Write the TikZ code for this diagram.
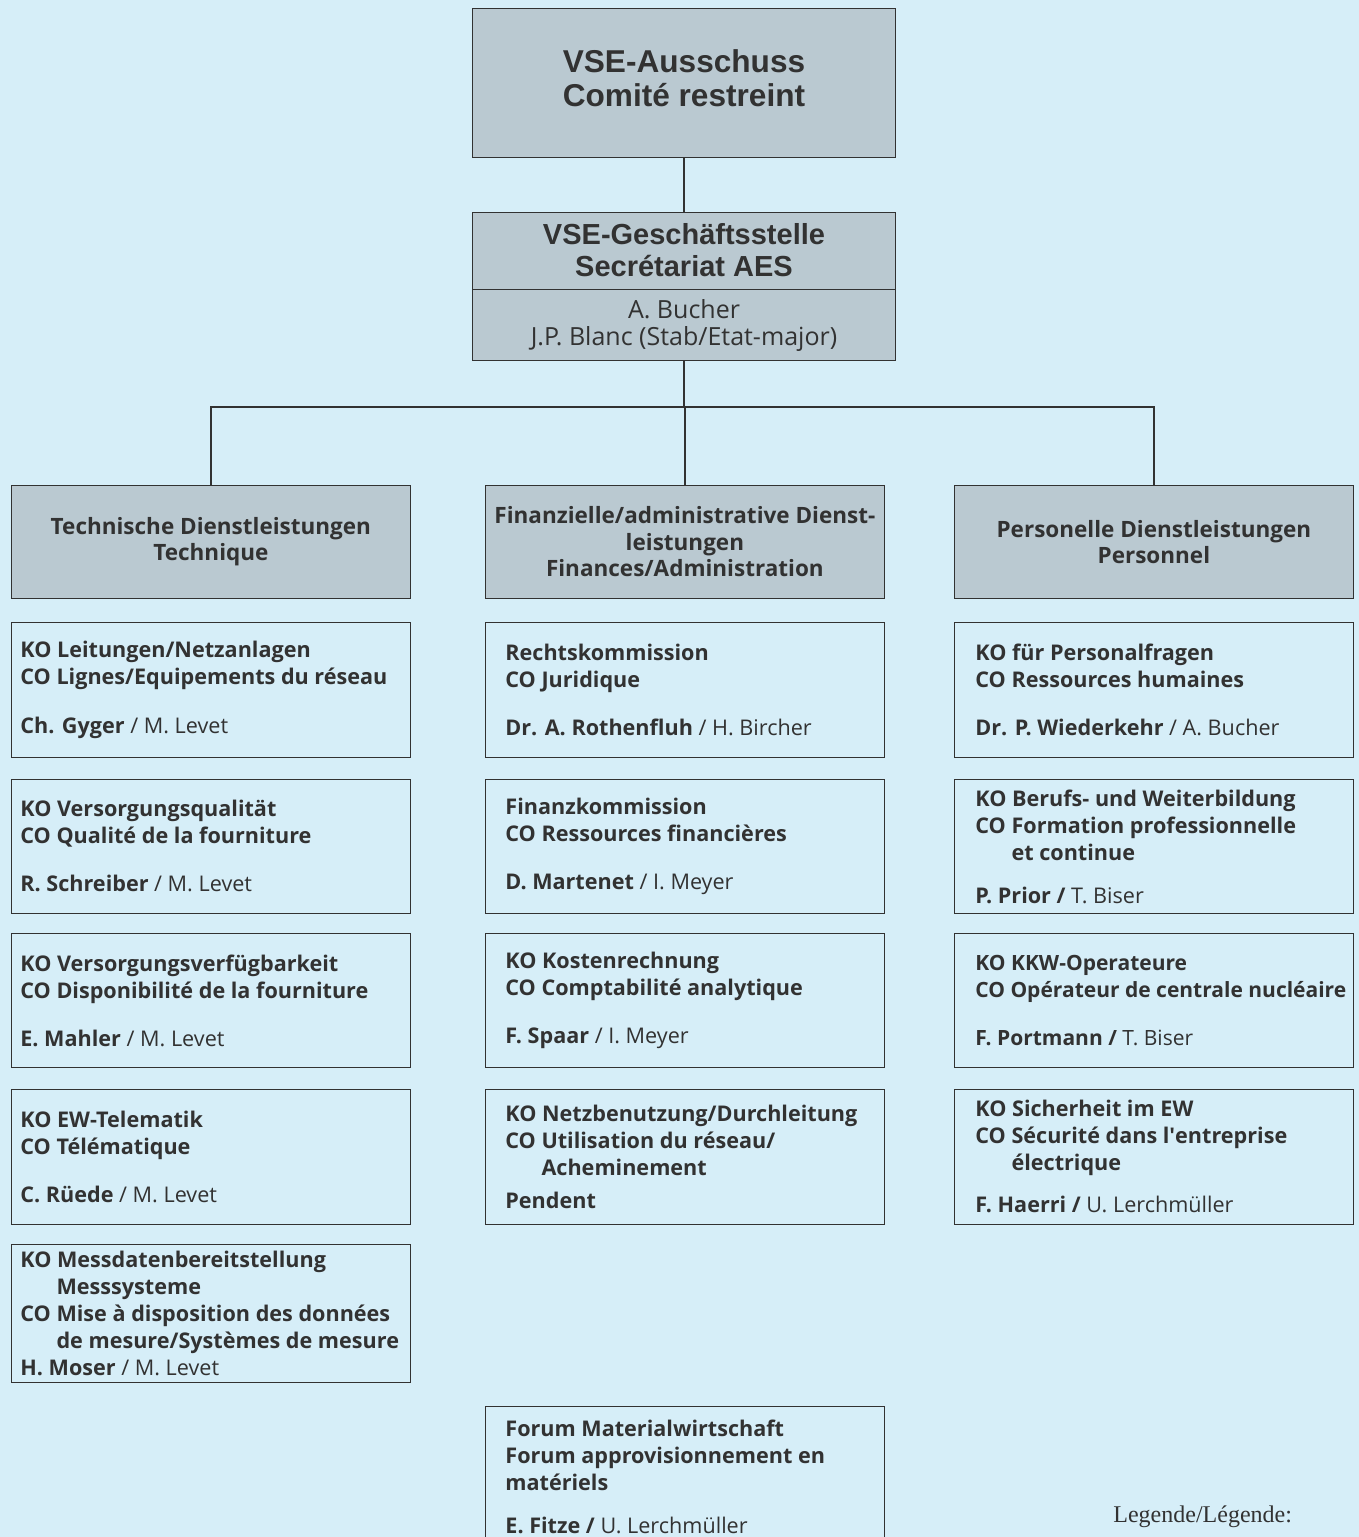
\documentclass[tikz,border=0pt]{standalone}
\usepackage{fontspec}
\setmainfont{Open Sans}
\newfontfamily\headfont{Liberation Sans}
\newfontfamily\legendfont{Liberation Serif}
\usetikzlibrary{positioning}
\definecolor{Paper}{RGB}{214,238,248}
\definecolor{Head}{RGB}{186,201,209}
\definecolor{Ink}{RGB}{50,50,50}
\newcommand{\hang}{\hphantom{CO }}
\newcommand{\mgr}[1]{{\mdseries #1}}

\begin{document}
\begin{tikzpicture}[
  x=0.5pt, y=-0.5pt,
  every node/.style={text=Ink},
  boardbox/.style={draw=Ink, fill=Head, minimum width=211.5pt, align=center, inner sep=0pt,
    font=\headfont\bfseries\fontsize{15.8}{17}\selectfont},
  deptbox/.style={draw=Ink, fill=Head, minimum width=199.5pt, minimum height=56.5pt, anchor=north west,
    align=center, inner sep=0pt, font=\bfseries\fontsize{11.25}{13.2}\selectfont},
  kobox/.style={draw=Ink, minimum width=199.5pt, anchor=north west, inner sep=0pt},
  kotext/.style={anchor=west, align=left, inner sep=0pt, font=\bfseries\fontsize{10.8}{13.5}\selectfont},
  wire/.style={draw=Ink, line width=0.6pt}
]

\fill[Paper] (0,0) rectangle (1359,1537);
\useasboundingbox (0,0) rectangle (1359,1537);

% head office
\node[boardbox, minimum height=74.5pt, text depth=4pt] (board) at (684,82.5) {VSE-Ausschuss\\Comité restreint};
\node[boardbox, minimum height=38.5pt, font=\headfont\bfseries\fontsize{14.5}{16}\selectfont] (office) at (684,250.5)
  {VSE-Geschäftsstelle\\Secrétariat AES};
\node[boardbox, minimum height=35.5pt, below=0pt of office, font=\fontsize{12.5}{13.5}\selectfont] (staff)
  {A. Bucher\\J.P. Blanc (Stab/Etat-major)};

% departments
\node[deptbox] (tech) at (11,485) {Technische Dienstleistungen\\Technique};
\node[deptbox] (fin) at (485,485) {Finanzielle/administrative Dienst-\\leistungen\\Finances/Administration};
\node[deptbox] (pers) at (954,485) {Personelle Dienstleistungen\\Personnel};

\coordinate (bus) at (684,407);
\draw[wire] (board.south) -- (office.north);
\draw[wire] (staff.south) -- (staff.south |- bus);
\draw[wire] (tech.north) |- (bus) -| (pers.north);
\draw[wire] (fin.north) -- (fin.north |- bus);

% technique
\node[kobox, minimum height=67.5pt] (t1) at (11,622) {};
\node[kotext] (t1-txt) at ([xshift=4.5pt]t1.west)
  {KO Leitungen/Netzanlagen\\CO Lignes/Equipements du réseau\\[11pt]Ch. Gyger \mgr{/ M. Levet}};
\node[kobox, minimum height=67pt] (t2) at (11,779) {};
\node[kotext] (t2-txt) at ([xshift=4.5pt]t2.west)
  {KO Versorgungsqualität\\CO Qualité de la fourniture\\[10.5pt]R. Schreiber \mgr{/ M. Levet}};
\node[kobox, minimum height=67pt] (t3) at (11,933) {};
\node[kotext] (t3-txt) at ([xshift=4.5pt]t3.west)
  {KO Versorgungsverfügbarkeit\\CO Disponibilité de la fourniture\\[10.5pt]E. Mahler \mgr{/ M. Levet}};
\node[kobox, minimum height=67.5pt] (t4) at (11,1089) {};
\node[kotext] (t4-txt) at ([xshift=4.5pt]t4.west)
  {KO EW-Telematik\\CO Télématique\\[10.5pt]C. Rüede \mgr{/ M. Levet}};
\node[kobox, minimum height=69pt] (t5) at (11,1244) {};
\node[kotext] (t5-txt) at ([xshift=4.5pt]t5.west)
  {KO Messdatenbereitstellung\\\hang Messsysteme\\CO Mise à disposition des données\\\hang de mesure/Systèmes de mesure\\H. Moser \mgr{/ M. Levet}};

% finances
\node[kobox, minimum height=67.5pt] (f1) at (485,622) {};
\node[kotext] (f1-txt) at ([xshift=10pt]f1.west)
  {Rechtskommission\\CO Juridique\\[10.5pt]Dr. A. Rothenfluh \mgr{/ H. Bircher}};
\node[kobox, minimum height=67pt] (f2) at (485,779) {};
\node[kotext] (f2-txt) at ([xshift=10pt]f2.west)
  {Finanzkommission\\CO Ressources financières\\[10.5pt]D. Martenet \mgr{/ I. Meyer}};
\node[kobox, minimum height=67pt] (f3) at (485,933) {};
\node[kotext] (f3-txt) at ([xshift=10pt]f3.west)
  {KO Kostenrechnung\\CO Comptabilité analytique\\[10.5pt]F. Spaar \mgr{/ I. Meyer}};
\node[kobox, minimum height=67.5pt] (f4) at (485,1089) {};
\node[kotext] (f4-txt) at ([xshift=10pt]f4.west)
  {KO Netzbenutzung/Durchleitung\\CO Utilisation du réseau/\\\hang Acheminement\\[3pt]Pendent};
\node[kobox, minimum height=70pt] (forum) at (485,1406) {};
\node[kotext] (forum-txt) at ([xshift=10pt]forum.west)
  {Forum Materialwirtschaft\\Forum approvisionnement en\\matériels\\[8pt]E. Fitze / \mgr{U. Lerchmüller}};

% personnel
\node[kobox, minimum height=67.5pt] (p1) at (954,622) {};
\node[kotext] (p1-txt) at ([xshift=10.5pt]p1.west)
  {KO für Personalfragen\\CO Ressources humaines\\[10.5pt]Dr. P. Wiederkehr \mgr{/ A. Bucher}};
\node[kobox, minimum height=67pt] (p2) at (954,779) {};
\node[kotext] (p2-txt) at ([xshift=10.5pt]p2.west)
  {KO Berufs- und Weiterbildung\\CO Formation professionnelle\\\hang et continue\\[8pt]P. Prior / \mgr{T. Biser}};
\node[kobox, minimum height=67pt] (p3) at (954,933) {};
\node[kotext, font=\bfseries\fontsize{10.5}{13.5}\selectfont] (p3-txt) at ([xshift=10.5pt]p3.west)
  {KO KKW-Operateure\\CO Opérateur de centrale nucléaire\\[10.5pt]F. Portmann / \mgr{T. Biser}};
\node[kobox, minimum height=67.5pt] (p4) at (954,1089) {};
\node[kotext] (p4-txt) at ([xshift=10.5pt]p4.west)
  {KO Sicherheit im EW\\CO Sécurité dans l\textquotesingle entreprise\\\hang électrique\\[7.5pt]F. Haerri / \mgr{U. Lerchmüller}};

\node[anchor=west, inner sep=0pt, font=\legendfont\fontsize{12}{14}\selectfont] (legend) at (1113,1517) {Legende/Légende:};
\end{tikzpicture}
\end{document}
